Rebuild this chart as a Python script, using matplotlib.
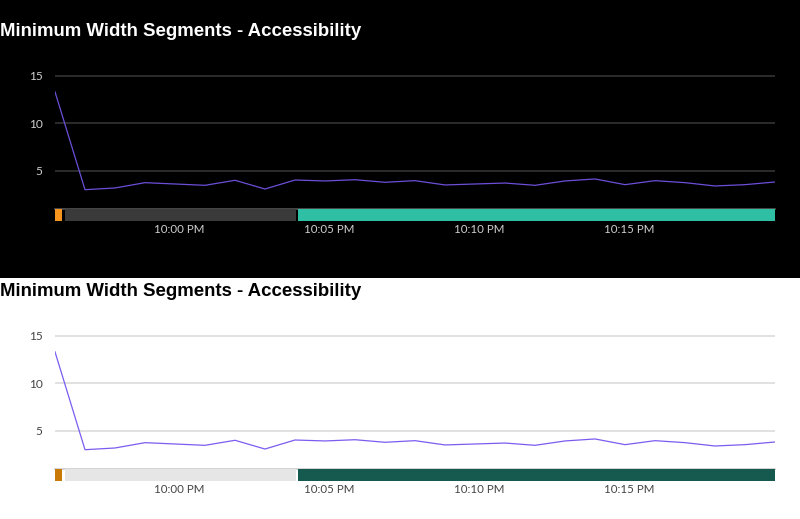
import matplotlib
matplotlib.use("Agg")
import matplotlib.pyplot as plt
import matplotlib.dates as mdates
from matplotlib.patches import Rectangle
import pandas as pd
from datetime import timedelta

# ---------------- data ----------------
title = "Minimum Width Segments - Accessibility"
start_time = pd.Timestamp("2024-01-01 21:55:52")
values = [13.3, 3.0, 3.18, 3.74, 3.6, 3.46, 3.99, 3.07, 4.02, 3.92, 4.05, 3.78,
          3.95, 3.5, 3.6, 3.7, 3.46, 3.92, 4.13, 3.53, 3.95, 3.74, 3.39, 3.53, 3.81]
seg_names = ["warning", "idle", "ok"]
seg_start_sec = [0, 20, 486]
seg_end_sec = [14, 482, 1440]
y_ticks = [5, 10, 15]
x_tick_times = ["2024-01-01 22:00", "2024-01-01 22:05", "2024-01-01 22:10", "2024-01-01 22:15"]
x_tick_labels = ["10:00 PM", "10:05 PM", "10:10 PM", "10:15 PM"]

times = pd.date_range(start_time, periods=len(values), freq="1min").to_pydatetime()
tick_dt = pd.to_datetime(x_tick_times).to_pydatetime()

themes = [
    dict(off=0, bg="#000000", title="#ffffff", tick="#cfcfcf", grid="#333333",
         base="#555555", line="#6b4fd8", segs=["#f7941d", "#3a3a3a", "#2ebfa5"]),
    dict(off=260, bg="#ffffff", title="#000000", tick="#444444", grid="#dcdcdc",
         base="#cccccc", line="#7c5cf0", segs=["#c97a06", "#e6e6e6", "#165a4f"]),
]

W, H = 800, 519
fig = plt.figure(figsize=(W / 100, H / 100), dpi=100)
fig.patch.set_facecolor("#ffffff")
fig.add_artist(Rectangle((0, 1 - 278 / H), 1, 278 / H, transform=fig.transFigure,
                         facecolor="#000000", edgecolor="none", zorder=-10))


def px_axes(left, top, right, bottom):
    return fig.add_axes([left / W, 1 - bottom / H, (right - left) / W, (bottom - top) / H])


xlim = (mdates.date2num(times[0]), mdates.date2num(times[-1]))

for th in themes:
    o = th["off"]
    fig.text(0, 1 - (31.5 + o) / H, title, ha="left", va="center",
             fontsize=13.45, fontweight="bold", color=th["title"],
             family=["Liberation Sans", "DejaVu Sans"])

    ax = px_axes(55, 70 + o, 775, 208.5 + o)
    ax.set_facecolor("none")
    ax.plot(times, values, color=th["line"], lw=0.9, zorder=3)
    ax.set_xlim(*xlim)
    ax.set_ylim(1.02, 15.6)
    ax.set_yticks(y_ticks)
    ax.set_yticklabels([str(v) for v in y_ticks])
    ax.yaxis.grid(True, color=th["grid"], lw=1.2)
    ax.set_axisbelow(True)
    ax.tick_params(axis="y", length=0, pad=9, labelcolor=th["tick"], labelsize=8.6)
    for lab in ax.get_yticklabels():
        lab.set_family(["Lato", "DejaVu Sans"])
    ax.tick_params(axis="x", bottom=False, labelbottom=False)
    for s in ["top", "left", "right"]:
        ax.spines[s].set_visible(False)
    ax.spines["bottom"].set_color(th["base"])
    ax.spines["bottom"].set_linewidth(1.2)

    bx = px_axes(55, 209 + o, 775, 221 + o)
    bx.set_facecolor("none")
    bars = []
    for s0, s1 in zip(seg_start_sec, seg_end_sec):
        x0 = mdates.date2num(times[0] + timedelta(seconds=s0))
        x1 = mdates.date2num(times[0] + timedelta(seconds=s1))
        bars.append((x0, x1 - x0))
    bx.broken_barh(bars, (0, 1), facecolors=th["segs"], edgecolor="none")
    bx.set_xlim(*xlim)
    bx.set_ylim(0, 1)
    bx.set_yticks([])
    bx.set_xticks(mdates.date2num(tick_dt))
    bx.set_xticklabels(x_tick_labels)
    bx.tick_params(axis="x", length=0, pad=2.5, labelcolor=th["tick"], labelsize=8.3)
    for lab in bx.get_xticklabels():
        lab.set_family(["Lato", "DejaVu Sans"])
    for s in bx.spines.values():
        s.set_visible(False)

fig.savefig("out.png", dpi=100, facecolor=fig.get_facecolor())
